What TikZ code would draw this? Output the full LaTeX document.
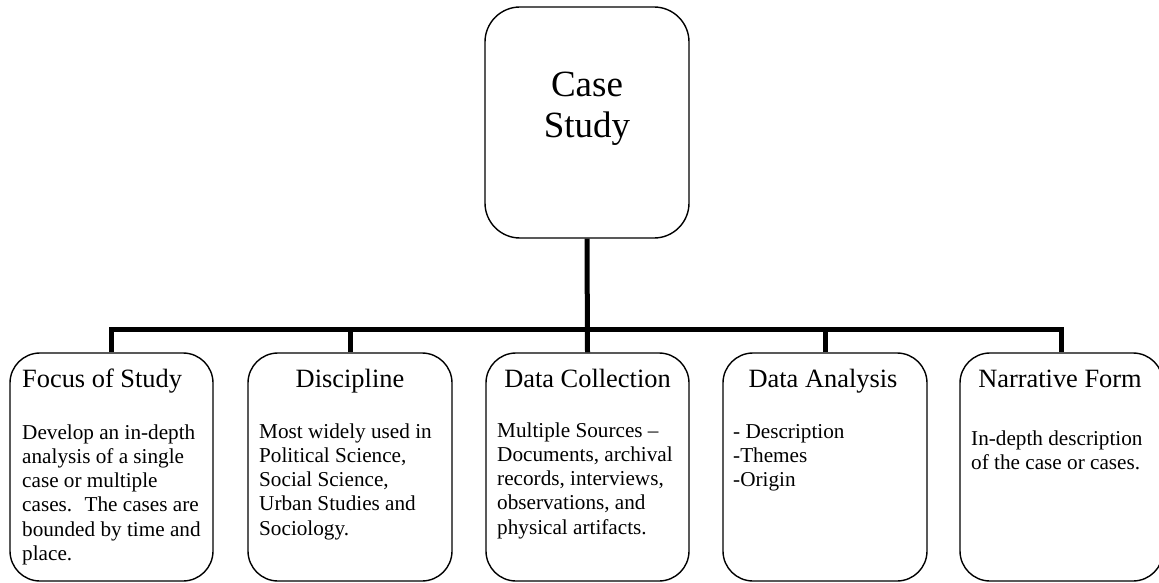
\documentclass[tikz,border=0pt]{standalone}
\usepackage{fontspec}
\setmainfont{Liberation Serif}
\begin{document}
\begin{tikzpicture}[x=1pt,y=-1pt,
  boxshape/.style={draw=black, line width=1.4pt, rounded corners=30pt, inner sep=0pt},
  titletext/.style={anchor=base, inner sep=0pt, font=\fontsize{26.4}{30}\selectfont},
  bodytext/.style={anchor=base west, inner sep=0pt, align=left, font=\fontsize{21.2}{24.3}\selectfont},
  link/.style={line width=5pt, line join=miter}]
\useasboundingbox (0,0) rectangle (1159,583);
% top box
\node[boxshape, rounded corners=35pt, minimum width=204pt, minimum height=231pt] (top) at (587,122.5) {};
% anchor base = baseline of the last line
\node[anchor=base, inner sep=0pt, align=center, font=\fontsize{37}{41}\selectfont] (toptext) at (587,138) {Case\\Study};
% bottom boxes
\node[boxshape, minimum width=203pt, minimum height=228pt] (b1) at (111.5,467) {};
\node[boxshape, minimum width=204pt, minimum height=228pt] (b2) at (350,467) {};
\node[boxshape, minimum width=203pt, minimum height=228pt] (b3) at (587.5,467) {};
\node[boxshape, minimum width=204pt, minimum height=228pt] (b4) at (825,467) {};
\node[boxshape, minimum width=203pt, minimum height=228pt] (b5) at (1061.5,467) {};
% titles
\node[titletext, anchor=base west] (t1) at (22,387) {Focus of Study};
\node[titletext] (t2) at (350,387) {Discipline};
\node[titletext] (t3) at (587.5,387) {Data Collection};
\node[titletext] (t4) at (823,387) {Data Analysis};
\node[titletext] (t5) at (1060,387) {Narrative Form};
% bodies (positioned at the baseline of the last line)
\node[bodytext] (x1) at (22,560.5) {Develop an in-depth\\analysis of a single\\case or multiple\\cases.~ The cases are\\bounded by time and\\place.};
\node[bodytext] (x2) at (259,535.2) {Most widely used in\\Political Science,\\Social Science,\\Urban Studies and\\Sociology.};
\node[bodytext] (x3) at (497,534.2) {Multiple Sources --\\Documents, archival\\records, interviews,\\observations, and\\physical artifacts.};
\node[bodytext] (x4) at (733,486.6) {- Description\\-Themes\\-Origin};
\node[bodytext] (x5) at (971,469.3) {In-depth description\\of the case or cases.};
% connectors
\coordinate (bar) at (587.5,329);
\draw[link] (top.south) -- (b3.north);
\draw[link] (b1.north) |- (bar) -| (b5.north);
\draw[link] (b2.north) -- (b2.north |- bar);
\draw[link] (b4.north) -- (b4.north |- bar);
\end{tikzpicture}
\end{document}
